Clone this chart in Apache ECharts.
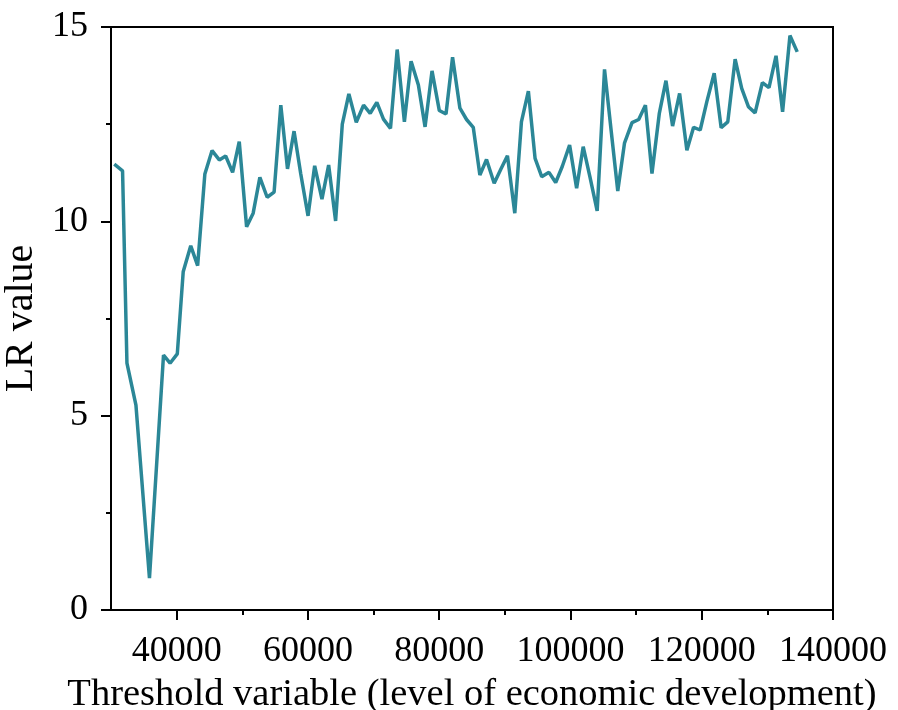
<!DOCTYPE html>
<html>
<head>
<meta charset="utf-8">
<script src="https://cdn.jsdelivr.net/npm/echarts@6/dist/echarts.min.js"></script>
<style>html,body{margin:0;padding:0;background:#fff}#c{width:898px;height:710px}</style>
</head>
<body>
<div id="c"></div>
<script>
const thresholdX = [30500,31760,32430,33800,35860,38000,39000,40100,41000,42150,43200,44300,45400,46500,47470,48530,49540,50660,51660,52680,53790,54850,55870,56890,57890,58900,60020,61030,62140,63160,64220,65240,66240,67370,68480,69490,70500,71510,72580,73600,74700,75720,76830,77850,78910,80020,81040,82040,83160,84170,85190,86200,87210,88380,89390,90400,91520,92530,93590,94610,95620,96730,97750,98750,99870,100940,101940,102960,104070,105190,106190,107210,108230,109380,110400,111420,112420,113540,114550,115560,116630,117740,118760,119770,120780,121900,122960,123970,125090,126090,127110,128130,129240,130250,131320,132320,133440,134550];
const lrValue = [11.47,11.30,6.35,5.27,0.82,6.56,6.35,6.59,8.70,9.37,8.86,11.22,11.82,11.58,11.68,11.26,12.05,9.86,10.21,11.13,10.62,10.75,12.99,11.35,12.32,11.23,10.14,11.43,10.57,11.45,10.01,12.50,13.28,12.55,12.99,12.78,13.06,12.63,12.39,14.42,12.56,14.12,13.51,12.43,13.87,12.85,12.76,14.22,12.91,12.62,12.42,11.19,11.59,10.98,11.34,11.69,10.21,12.56,13.35,11.62,11.15,11.26,11.00,11.41,11.96,10.85,11.92,11.15,10.27,13.91,12.35,10.78,12.01,12.54,12.62,12.99,11.23,12.78,13.62,12.45,13.29,11.83,12.42,12.35,13.08,13.81,12.41,12.56,14.17,13.42,12.95,12.79,13.57,13.44,14.26,12.82,14.78,14.36];
const xMajorTicks = [40000,60000,80000,100000,120000,140000];
const xMinorTicks = [50000,70000,90000,110000,130000];
const yTicks = [0,5,10,15];

const font = 'Liberation Serif';
const chart = echarts.init(document.getElementById('c'), null, {renderer:'canvas'});
const grid = {left:111, right:65, top:27, bottom:100, containLabel:false, outerBoundsMode:'none', show:true, borderColor:'#000', borderWidth:2, backgroundColor:'transparent'};
chart.setOption({
  animation:false,
  backgroundColor:'#fff',
  grid: grid,
  xAxis: [{
    type:'value', min:30000, max:140000,
    name:'Threshold variable (level of economic development)',
    nameLocation:'middle', nameGap:59,
    nameTextStyle:{fontFamily:font, fontSize:38.5, color:'#000'},
    axisLine:{show:true, lineStyle:{color:'#000', width:2}},
    axisTick:{show:true, inside:false, length:10, lineStyle:{color:'#000', width:2}, customValues:xMajorTicks},
    axisLabel:{show:true, margin:24, fontFamily:font, fontSize:36, color:'#000', customValues:xMajorTicks, formatter:v=>String(v)},
    splitLine:{show:false}
  },{
    type:'value', min:30000, max:140000, position:'bottom',
    axisLine:{show:false},
    axisTick:{show:true, inside:false, length:5, lineStyle:{color:'#000', width:2}, customValues:xMinorTicks},
    axisLabel:{show:false},
    splitLine:{show:false}
  }],
  yAxis: {
    type:'value', min:0, max:15, interval:5,
    name:'LR value', nameLocation:'middle', nameGap:70,
    nameTextStyle:{fontFamily:font, fontSize:40, color:'#000'},
    axisLine:{show:true, lineStyle:{color:'#000', width:2}},
    axisTick:{show:true, inside:false, length:10, lineStyle:{color:'#000', width:2}},
    minorTick:{show:true, splitNumber:2, length:5, lineStyle:{color:'#000', width:2}},
    axisLabel:{margin:23, fontFamily:font, fontSize:36, color:'#000', customValues:yTicks, formatter:v=>String(v)},
    splitLine:{show:false}, minorSplitLine:{show:false}
  },
  series: [{
    type:'line', xAxisIndex:0,
    data: thresholdX.map((x,i)=>[x, lrValue[i]]),
    showSymbol:false, symbol:'none',
    lineStyle:{color:'#2b8797', width:3.5},
    itemStyle:{color:'#2b8797'}
  }]
});
</script>
</body>
</html>
